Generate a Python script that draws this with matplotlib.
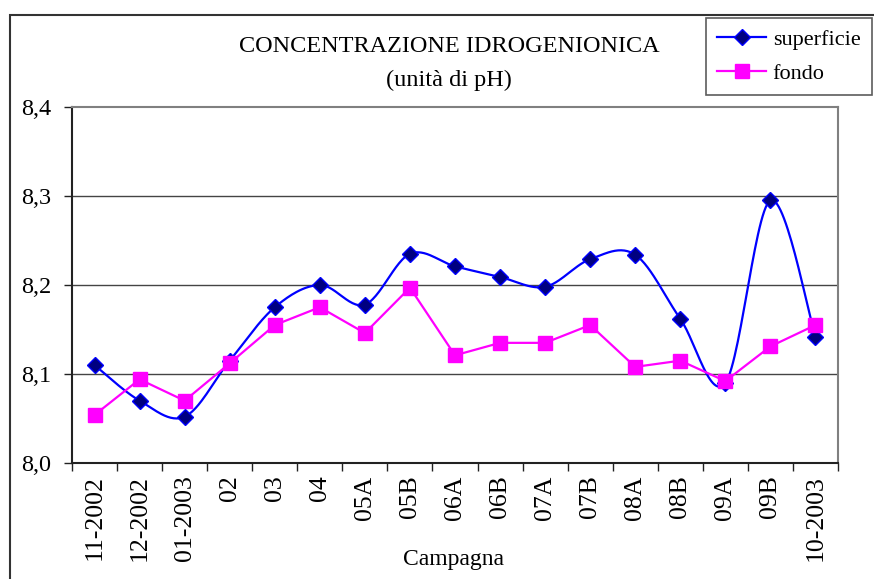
import numpy as np
import matplotlib
matplotlib.use("Agg")
import matplotlib.pyplot as plt
from matplotlib.patches import Rectangle
from matplotlib.lines import Line2D

categories = ["11-2002", "12-2002", "01-2003", "02", "03", "04", "05A", "05B",
              "06A", "06B", "07A", "07B", "08A", "08B", "09A", "09B", "10-2003"]
superficie = [8.110, 8.070, 8.052, 8.115, 8.175, 8.200, 8.178, 8.235,
              8.221, 8.209, 8.198, 8.229, 8.234, 8.162, 8.090, 8.295, 8.142]
fondo = [8.054, 8.094, 8.070, 8.112, 8.155, 8.175, 8.146, 8.197,
         8.121, 8.135, 8.135, 8.155, 8.108, 8.115, 8.092, 8.131, 8.155]
yticks = [8.0, 8.1, 8.2, 8.3, 8.4]
ytick_labels = ["8,0", "8,1", "8,2", "8,3", "8,4"]

plt.rcParams['font.family'] = ['Liberation Serif', 'DejaVu Serif']


def smooth(xs, ys, n=30):
    """Catmull-Rom style Bezier smoothing (like spreadsheet smoothed lines)."""
    xs = np.asarray(xs, float)
    ys = np.asarray(ys, float)
    P = np.column_stack([xs, ys])
    out = []
    for i in range(len(P) - 1):
        p0 = P[i - 1] if i > 0 else P[i]
        p1 = P[i]
        p2 = P[i + 1]
        p3 = P[i + 2] if i + 2 < len(P) else P[i + 1]
        c1 = p1 + (p2 - p0) / 6.0
        c2 = p2 - (p3 - p1) / 6.0
        t = np.linspace(0, 1, n)[:, None]
        seg = ((1 - t) ** 3) * p1 + 3 * ((1 - t) ** 2) * t * c1 + 3 * (1 - t) * t ** 2 * c2 + t ** 3 * p2
        out.append(seg if i == 0 else seg[1:])
    arr = np.vstack(out)
    return arr[:, 0], arr[:, 1]


fig = plt.figure(figsize=(8.74, 5.79), dpi=100)
W, H = 874, 579
ax = fig.add_axes([72 / W, 1 - 463 / H, (838 - 72) / W, (463 - 107) / H])

x = np.arange(len(categories))

# outer frame
fig.patches.append(Rectangle((10 / W, -0.01), 1.0, 1 - 15 / H + 0.01, transform=fig.transFigure,
                             fill=False, edgecolor='#333333', linewidth=1.5, zorder=0))

for yv in yticks[1:-1]:
    ax.axhline(yv, color='#444444', linewidth=1.0, zorder=1)

sx, sy = smooth(x, superficie)
ax.plot(sx, sy, color='#0000FF', linewidth=1.6, zorder=3)
ax.plot(x, superficie, linestyle='none', marker='D', markersize=8,
        markerfacecolor='#000080', markeredgecolor='#0000FF', markeredgewidth=1.0, zorder=4)
ax.plot(x, fondo, color='#FF00FF', linewidth=1.6, marker='s', markersize=10,
        markerfacecolor='#FF00FF', markeredgecolor='#FF00FF', zorder=5)

ax.set_xlim(-0.5, len(categories) - 0.5)
ax.set_ylim(8.0, 8.4)
ax.set_yticks(yticks)
ax.set_yticklabels(ytick_labels, fontsize=17.5)
ax.tick_params(axis='y', direction='out', length=6, width=1, pad=9, colors='#222222', labelcolor='black')

ax.set_xticks(np.arange(-0.5, len(categories), 1.0))
ax.set_xticklabels([])
ax.set_xticks(x, minor=True)
ax.set_xticklabels(categories, minor=True, rotation=90, fontsize=18.5)
ax.tick_params(axis='x', which='major', direction='out', length=6, width=1, colors='#222222')
ax.tick_params(axis='x', which='minor', length=0, pad=9)

for s in ['top', 'right']:
    ax.spines[s].set_color('#808080')
    ax.spines[s].set_linewidth(1.5)
for s in ['left', 'bottom']:
    ax.spines[s].set_color('#222222')
    ax.spines[s].set_linewidth(1.5)

fig.text(449 / W, 1 - 47 / H, "CONCENTRAZIONE IDROGENIONICA", ha='center', va='center', fontsize=17.5)
fig.text(449 / W, 1 - 80 / H, "(unità di pH)", ha='center', va='center', fontsize=17.5)
fig.text(453 / W, 1 - 560 / H, "Campagna", ha='center', va='center', fontsize=17)

handles = [
    Line2D([], [], color='#0000FF', linewidth=1.6, marker='D', markersize=8,
           markerfacecolor='#000080', markeredgecolor='#0000FF'),
    Line2D([], [], color='#FF00FF', linewidth=1.6, marker='s', markersize=10,
           markerfacecolor='#FF00FF', markeredgecolor='#FF00FF'),
]
leg = fig.legend(handles, ["superficie", "fondo"], loc='upper left',
                 bbox_to_anchor=(706 / W, 1 - 18 / H), bbox_transform=fig.transFigure,
                 fontsize=16, frameon=True, fancybox=False, edgecolor='#333333',
                 handlelength=2.2, handletextpad=0.3, borderpad=0.5, labelspacing=0.6,
                 borderaxespad=0)
leg.get_frame().set_linewidth(1.2)

fig.savefig("out.png", dpi=100)
